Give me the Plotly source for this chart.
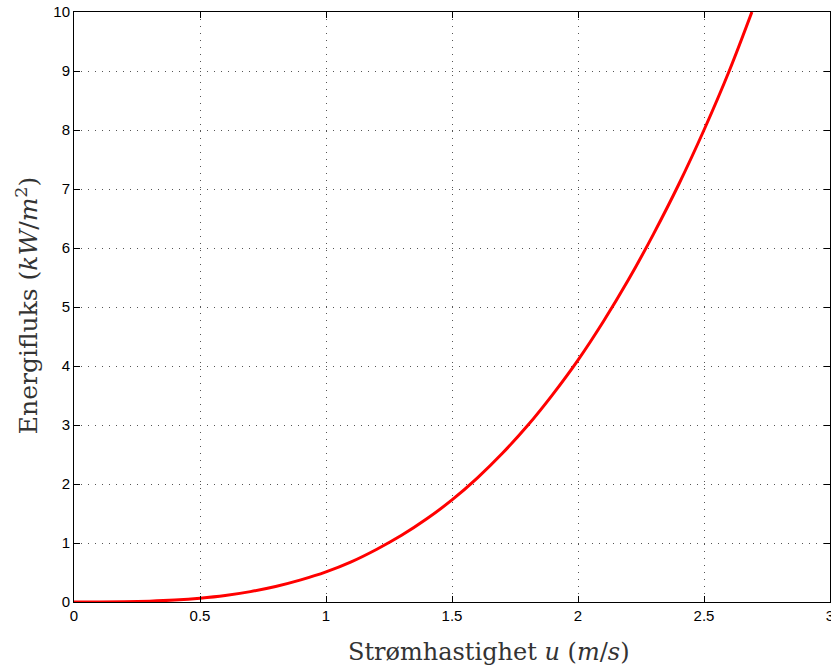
import plotly.graph_objects as go

# Values
speed_u = [0.0, 0.1, 0.2, 0.3, 0.4, 0.5, 0.6, 0.7, 0.8, 0.9, 1.0, 1.1, 1.2, 1.3,
           1.4, 1.5, 1.6, 1.7, 1.8, 1.9, 2.0, 2.1, 2.2, 2.3, 2.4, 2.5, 2.6, 2.69]
energy_flux = [0.0, 0.0005, 0.004, 0.014, 0.033, 0.064, 0.11, 0.176, 0.262, 0.374,
               0.51, 0.68, 0.89, 1.13, 1.41, 1.73, 2.10, 2.52, 2.99, 3.52,
               4.10, 4.75, 5.46, 6.24, 7.08, 8.0, 9.0, 10.0]
x_ticks = [0, 0.5, 1, 1.5, 2, 2.5, 3]
x_tick_labels = ["0", "0.5", "1", "1.5", "2", "2.5", "3"]
y_ticks = list(range(0, 11))
y_tick_labels = [str(v) for v in y_ticks]
x_title = "Strømhastighet <i>u</i> (<i>m</i>/<i>s</i>)"
y_title = "Energifluks (<i>kW</i>/<i>m</i><sup>2</sup>)"

fig = go.Figure()
fig.add_trace(go.Scatter(
    x=speed_u, y=energy_flux, mode="lines",
    line=dict(color="#ff0000", width=3, shape="spline"),
    showlegend=False, hoverinfo="skip",
))

axis_common = dict(
    showline=True, linecolor="black", linewidth=1, mirror="ticks",
    ticks="inside", ticklen=6, tickcolor="black", tickwidth=1,
    showgrid=True, gridcolor="#555555", griddash="1px,6px", gridwidth=1,
    zeroline=False, ticklabeloverflow="allow", automargin=False,
    tickfont=dict(family="Liberation Sans, Arial, sans-serif", size=15, color="black"),
)

title_font = dict(family="DejaVu Serif, Liberation Serif, serif", size=24, color="#333333")

fig.update_layout(
    width=831, height=671,
    margin=dict(l=74, r=1, t=12, b=69),
    paper_bgcolor="white", plot_bgcolor="white",
    xaxis=dict(range=[0, 3], tickvals=x_ticks, ticktext=x_tick_labels, **axis_common),
    yaxis=dict(range=[0, 10], tickvals=y_ticks, ticktext=y_tick_labels, **axis_common),
    annotations=[
        dict(text=x_title, xref="paper", yref="paper", x=0.549, y=-0.0847,
             xanchor="center", yanchor="middle", showarrow=False, font=title_font),
        dict(text=y_title, xref="paper", yref="paper", x=-0.0622, y=0.503,
             xanchor="center", yanchor="middle", showarrow=False, textangle=-90,
             font=dict(family=title_font["family"], size=25, color=title_font["color"])),
    ],
)

fig.write_html("out.html")
